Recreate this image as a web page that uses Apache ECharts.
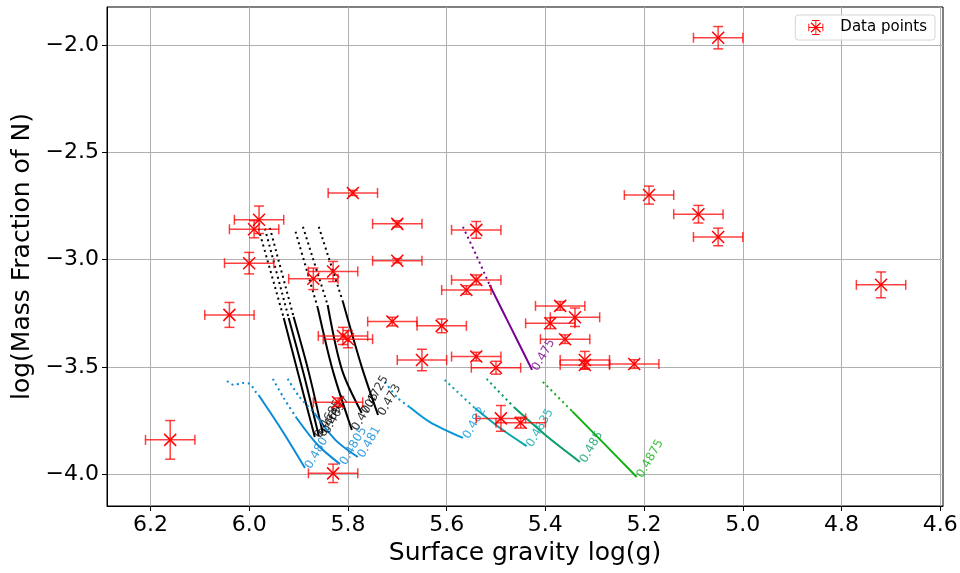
<!DOCTYPE html>
<html>
<head>
<meta charset="utf-8">
<script src="https://cdn.jsdelivr.net/npm/echarts@6/dist/echarts.min.js"></script>
<style>
  html, body { margin: 0; padding: 0; background: #fff; }
  #chart { width: 960px; height: 573px; }
</style>
</head>
<body>
<div id="chart"></div>
<script>
// observed stars: surface gravity, log N mass fraction, and their errors
const logg = [5.05, 5.79, 5.19, 5.09, 5.05, 4.72, 5.98, 5.99, 6.00, 6.04, 5.87, 5.83, 5.81, 5.80, 5.70, 5.70, 5.71, 5.54, 5.54, 5.56, 5.61, 5.65, 5.54, 5.50, 5.37, 5.34, 5.39, 5.36, 5.32, 5.32, 5.22, 5.49, 5.45, 5.82, 5.83, 6.16]
const logN = [-1.967, -2.69, -2.70, -2.789, -2.895, -3.118, -2.815, -2.859, -3.017, -3.258, -3.09, -3.056, -3.356, -3.371, -2.834, -3.006, -3.289, -2.862, -3.095, -3.142, -3.309, -3.468, -3.452, -3.504, -3.216, -3.269, -3.297, -3.371, -3.468, -3.491, -3.487, -3.74, -3.76, -3.665, -3.996, -3.84]
const loggErr = [0.05, 0.05, 0.05, 0.05, 0.05, 0.05, 0.05, 0.05, 0.05, 0.05, 0.05, 0.05, 0.05, 0.05, 0.05, 0.05, 0.05, 0.05, 0.05, 0.05, 0.05, 0.05, 0.05, 0.05, 0.05, 0.05, 0.05, 0.05, 0.05, 0.05, 0.05, 0.05, 0.05, 0.05, 0.05, 0.05]
const logNErr = [0.052, 0.012, 0.042, 0.041, 0.041, 0.06, 0.064, 0.04, 0.05, 0.058, 0.05, 0.047, 0.04, 0.04, 0.015, 0.01, 0.02, 0.039, 0.023, 0.02, 0.032, 0.05, 0.02, 0.03, 0.02, 0.043, 0.025, 0.02, 0.04, 0.02, 0.02, 0.06, 0.025, 0.02, 0.043, 0.09]

// model tracks, one entry per mass
const trackLabels = ['0.4685', '0.469', '0.4697', '0.4705', '0.4725', '0.473', '0.475', '0.480', '0.4805', '0.481', '0.482', '0.4835', '0.485', '0.4875']
const trackDotted = [
  [[5.981, -2.857], [5.930, -3.272]],
  [[5.968, -2.857], [5.920, -3.272]],
  [[5.958, -2.853], [5.910, -3.267]],
  [[5.906, -2.871], [5.861, -3.226]],
  [[5.891, -2.848], [5.841, -3.212]],
  [[5.859, -2.848], [5.810, -3.198]],
  [[5.567, -2.848], [5.540, -2.980], [5.513, -3.118]],
  [[6.045, -3.566], [6.031, -3.584], [6.013, -3.575], [5.999, -3.580], [5.985, -3.622], [5.981, -3.631]],
  [[5.952, -3.556], [5.930, -3.645], [5.904, -3.738]],
  [[5.922, -3.556], [5.898, -3.640], [5.868, -3.715]],
  [[5.725, -3.570], [5.699, -3.645], [5.675, -3.687]],
  [[5.604, -3.561], [5.543, -3.692]],
  [[5.519, -3.556], [5.464, -3.687]],
  [[5.405, -3.570], [5.346, -3.706]]
]
const trackSolid = [
  [[5.930, -3.272], [5.900, -3.538], [5.867, -3.827]],
  [[5.920, -3.272], [5.889, -3.538], [5.859, -3.822]],
  [[5.910, -3.267], [5.879, -3.528], [5.851, -3.808]],
  [[5.861, -3.226], [5.831, -3.514], [5.792, -3.794]],
  [[5.841, -3.212], [5.812, -3.514], [5.772, -3.715]],
  [[5.810, -3.198], [5.772, -3.500], [5.739, -3.724]],
  [[5.513, -3.118], [5.470, -3.316], [5.427, -3.514]],
  [[5.981, -3.631], [5.934, -3.794], [5.887, -3.971]],
  [[5.904, -3.738], [5.861, -3.864], [5.816, -3.953]],
  [[5.868, -3.715], [5.825, -3.841], [5.780, -3.920]],
  [[5.675, -3.687], [5.634, -3.757], [5.567, -3.831]],
  [[5.543, -3.692], [5.492, -3.785], [5.438, -3.869]],
  [[5.464, -3.687], [5.395, -3.827], [5.330, -3.943]],
  [[5.346, -3.706], [5.280, -3.860], [5.215, -4.013]]
]
const trackColors = ['#000', '#000', '#000', '#000', '#000', '#000', '#780090', '#0a8ad8', '#0a8ad8', '#0a8ad8', '#0896d8', '#0aa6b0', '#0a9d6a', '#10b010']

const xTicks = [4.6, 4.8, 5.0, 5.2, 5.4, 5.6, 5.8, 6.0, 6.2]
const yTicks = [-4.0, -3.5, -3.0, -2.5, -2.0]

const FONT = 'DejaVu Sans'
const minus = v => String(v.toFixed(1)).replace('-', '\u2212')

function renderErrorBar(params, api) {
  const x = api.value(0)
  const y = api.value(1)
  const ex = api.value(2)
  const ey = api.value(3)
  const p = api.coord([x, y])
  const l = api.coord([x + ex, y])
  const r = api.coord([x - ex, y])
  const t = api.coord([x, y + ey])
  const b = api.coord([x, y - ey])
  const cap = 5
  const s = 6
  const bar = { stroke: 'rgba(255,0,0,0.75)', lineWidth: 1.5, fill: null }
  const mk = { stroke: '#ff0000', lineWidth: 1.5, fill: null }
  return {
    type: 'group',
    children: [
      { type: 'line', shape: { x1: l[0], y1: p[1], x2: r[0], y2: p[1] }, style: bar },
      { type: 'line', shape: { x1: l[0], y1: p[1] - cap, x2: l[0], y2: p[1] + cap }, style: bar },
      { type: 'line', shape: { x1: r[0], y1: p[1] - cap, x2: r[0], y2: p[1] + cap }, style: bar },
      { type: 'line', shape: { x1: p[0], y1: t[1], x2: p[0], y2: b[1] }, style: bar },
      { type: 'line', shape: { x1: p[0] - cap, y1: t[1], x2: p[0] + cap, y2: t[1] }, style: bar },
      { type: 'line', shape: { x1: p[0] - cap, y1: b[1], x2: p[0] + cap, y2: b[1] }, style: bar },
      { type: 'line', shape: { x1: p[0] - s, y1: p[1] - s, x2: p[0] + s, y2: p[1] + s }, style: mk },
      { type: 'line', shape: { x1: p[0] - s, y1: p[1] + s, x2: p[0] + s, y2: p[1] - s }, style: mk }
    ]
  }
}

const series = []
trackLabels.forEach((name, i) => {
  series.push({
    name: name + ' dotted',
    type: 'line',
    data: trackDotted[i],
    symbol: 'none',
    smooth: 0.3,
    silent: true,
    z: 3,
    lineStyle: { color: trackColors[i], width: 2, type: [2, 3.5] }
  })
  series.push({
    name: name,
    type: 'line',
    data: trackSolid[i],
    symbol: 'none',
    smooth: 0.3,
    silent: true,
    z: 3,
    lineStyle: { color: trackColors[i], width: 2, type: 'solid' }
  })
})

// mass labels at the end of each track
series.push({
  name: 'labels',
  type: 'scatter',
  symbolSize: 0,
  silent: true,
  z: 4,
  data: trackLabels.map((name, i) => {
    const last = trackSolid[i][trackSolid[i].length - 1]
    return {
      value: last,
      label: {
        show: true,
        formatter: name,
        position: 'right',
        distance: 3,
        rotate: 60,
        color: trackColors[i],
        fontFamily: FONT,
        fontSize: 12
      }
    }
  })
})

series.push({
  name: 'Data points',
  type: 'custom',
  renderItem: renderErrorBar,
  itemStyle: { color: '#ff0000' },
  encode: { x: 0, y: 1 },
  z: 5,
  data: logg.map((v, i) => [v, logN[i], loggErr[i], logNErr[i]])
})

const legendIcon = 'path://M0,9.4H20V10.6H0Z M9.4,0H10.6V20H9.4Z M0,5H1.2V15H0Z M18.8,5H20V15H18.8Z M5,0H15V1.2H5Z M5,18.8H15V20H5Z M3,4.2L4.2,3L17,15.8L15.8,17Z M15.8,3L17,4.2L4.2,17L3,15.8Z'

const option = {
  animation: false,
  backgroundColor: '#fff',
  grid: {
    left: 107,
    right: 17,
    top: 7,
    bottom: 67,
    show: true,
    borderColor: '#000',
    borderWidth: 1,
    outerBoundsMode: 'none'
  },
  legend: {
    data: ['Data points'],
    right: 25,
    top: 15,
    orient: 'vertical',
    icon: legendIcon,
    itemWidth: 15,
    itemHeight: 15,
    padding: [5, 8, 5, 13],
    backgroundColor: 'rgba(255,255,255,0.8)',
    borderColor: '#d6d6d6',
    borderWidth: 1,
    borderRadius: 3,
    textStyle: { fontFamily: FONT, fontSize: 15, color: '#000', padding: [0, 0, 0, 12] }
  },
  xAxis: {
    type: 'value',
    inverse: true,
    min: 4.5945,
    max: 6.288,
    name: 'Surface gravity log(g)',
    nameLocation: 'middle',
    nameGap: 35,
    nameTextStyle: { fontFamily: FONT, fontSize: 25, color: '#000' },
    axisLine: { show: true, onZero: false, lineStyle: { color: '#000', width: 1 } },
    axisTick: { show: true, length: 5, customValues: xTicks, lineStyle: { color: '#000' } },
    axisLabel: { customValues: xTicks, formatter: minus, margin: 8, fontFamily: FONT, fontSize: 22, color: '#000' },
    splitLine: { show: true, lineStyle: { color: '#b0b0b0', width: 1 } }
  },
  yAxis: {
    type: 'value',
    min: -4.148,
    max: -1.824,
    name: 'log(Mass Fraction of N)',
    nameLocation: 'middle',
    nameGap: 70,
    nameTextStyle: { fontFamily: FONT, fontSize: 25, color: '#000' },
    axisLine: { show: true, onZero: false, lineStyle: { color: '#000', width: 1 } },
    axisTick: { show: true, length: 5, customValues: yTicks, lineStyle: { color: '#000' } },
    axisLabel: { customValues: yTicks, formatter: minus, margin: 8, fontFamily: FONT, fontSize: 22, color: '#000' },
    splitLine: { show: true, lineStyle: { color: '#b0b0b0', width: 1 } }
  },
  series: series
}

const chart = echarts.init(document.getElementById('chart'))
chart.setOption(option)
</script>
</body>
</html>
